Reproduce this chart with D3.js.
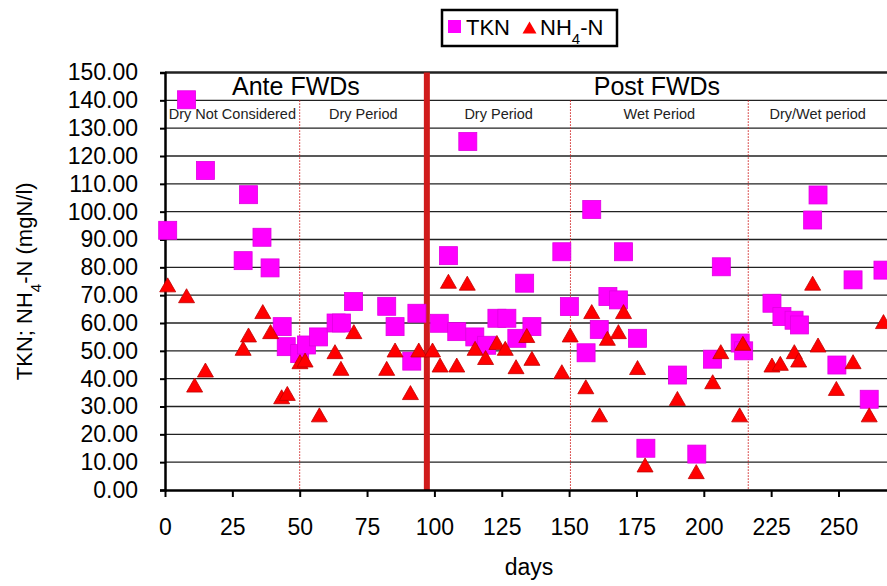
<!DOCTYPE html>
<html>
<head>
<meta charset="utf-8">
<script src="https://cdn.jsdelivr.net/npm/d3@7"></script>
<style>
  body { margin: 0; background: #fff; }
  text { font-family: "Liberation Sans", Arial, sans-serif; fill: #000; }
</style>
</head>
<body>
<div id="chart"></div>
<script>
// data
const tknDays = [1, 8, 15, 29, 31, 36, 39, 43.5, 45, 50, 52.5, 57, 63.5, 65.5, 70, 82.3, 85.4, 91.6, 93.5,
  101.8, 105.2, 108.3, 112.4, 115, 119.4, 123.2, 126.9, 130.6, 133.5, 136.2,
  147.3, 150.1, 156.3, 158.4, 161.2, 164.4, 168.3, 170.2, 175.4, 178.5,
  190.2, 197.4, 203.2, 206.5, 213.5, 214.8,
  225.3, 229, 233.5, 235.5, 240.4, 242.4, 249.4, 255.4, 261.4, 266.5];
const tknValues = [93.3, 140.2, 114.8, 82.4, 106.1, 90.8, 79.8, 58.7, 51.5, 49, 52.1, 55, 60, 60, 67.7, 66, 58.7, 46.3, 63.5,
  59.9, 84.2, 56.9, 125.2, 55, 52, 61.7, 61.7, 54.5, 74.3, 58.7,
  85.6, 65.9, 49.3, 100.8, 57.7, 69.5, 68.3, 85.6, 54.5, 15,
  41.3, 12.9, 47, 80.2, 52.8, 50,
  67.1, 62.3, 61, 59.3, 97, 106, 44.9, 75.5, 32.6, 79];

const nh4Days = [1, 8, 11, 15, 29, 31, 36.3, 39.2, 43.3, 45.4, 50.1, 52, 57.3, 63.1, 65.3, 70.1, 82.3, 85.4, 91.1, 94.2,
  99.3, 102.1, 105.2, 108.3, 112.2, 115.1, 119, 123.2, 126.3, 130.3, 134.3, 136.2,
  147.3, 150.4, 156.2, 158.4, 161.3, 164.2, 168.3, 170.2, 175.4, 178.2,
  190.2, 197.2, 203.3, 206.3, 213.3, 214.5,
  225.3, 228.4, 233.6, 235.2, 240.4, 242.4, 249.2, 255.4, 261.4, 266.7];
const nh4Values = [73.7, 69.8, 37.7, 43.1, 50.9, 55.7, 64.1, 56.9, 33.5, 34.7, 46.1, 46.7, 27, 49.7, 43.7, 56.9, 43.7, 50.3, 35, 50.3,
  50.3, 44.9, 75, 44.9, 74.3, 50.9, 47.6, 53, 50.9, 44.3, 55.5, 47.3,
  42.5, 55.7, 37.1, 64.1, 27, 54.5, 56.9, 64.1, 44, 9,
  32.9, 6.6, 38.9, 49.7, 27, 52.7,
  44.9, 45.5, 49.7, 46.7, 74.3, 52.1, 36.5, 46.1, 27, 60.5];

const xTicks = [0, 25, 50, 75, 100, 125, 150, 175, 200, 225, 250];
const yTicks = [0, 10, 20, 30, 40, 50, 60, 70, 80, 90, 100, 110, 120, 130, 140, 150];

const fwdDay = 97.2;                       // thick red line
const periodBounds = [50, 150.5, 216.5];  // dotted red lines
const phases = [{ label: "Ante FWDs", from: 0, to: fwdDay }, { label: "Post FWDs", from: fwdDay, to: 268 }];
const periods = [
  { label: "Dry Not Considered", from: 0, to: 50 },
  { label: "Dry Period", from: 50, to: fwdDay },
  { label: "Dry Period", from: fwdDay, to: 150.5 },
  { label: "Wet Period", from: 150.5, to: 216.5 },
  { label: "Dry/Wet period", from: 216.5, to: 268 }
];

// 1: SVG
const W = 887, H = 586;
const svg = d3.select("#chart").append("svg")
  .attr("width", W).attr("height", H);

const x = d3.scaleLinear().domain([0, 268]).range([165, 887]);
const y = d3.scaleLinear().domain([0, 150]).range([490, 72.5]);

// 2: GRID
svg.append("g")
  .selectAll("line")
  .data(yTicks.filter(d => d > 0))
  .enter().append("line")
  .attr("x1", x(0)).attr("x2", W)
  .attr("y1", d => y(d)).attr("y2", d => y(d))
  .attr("stroke", "#222")
  .attr("stroke-width", d => d === 150 ? 2.5 : 1.4);

// 3: PERIOD LINES
svg.append("g")
  .selectAll("line")
  .data(periodBounds)
  .enter().append("line")
  .attr("x1", d => x(d)).attr("x2", d => x(d))
  .attr("y1", y(140)).attr("y2", y(0))
  .attr("stroke", "#d02020")
  .attr("stroke-width", 1)
  .attr("stroke-dasharray", "1.5,1.5");

svg.append("line")
  .attr("x1", x(fwdDay)).attr("x2", x(fwdDay))
  .attr("y1", y(150)).attr("y2", y(0))
  .attr("stroke", "#d01c1c")
  .attr("stroke-width", 6);

// 4: HEADER TEXT
svg.append("g")
  .selectAll("text")
  .data(phases)
  .enter().append("text")
  .attr("x", d => (x(d.from) + x(d.to)) / 2)
  .attr("y", 95)
  .attr("text-anchor", "middle")
  .style("font-size", "25px")
  .text(d => d.label);

svg.append("g")
  .selectAll("text")
  .data(periods)
  .enter().append("text")
  .attr("x", d => (x(d.from) + x(d.to)) / 2)
  .attr("y", 119)
  .attr("text-anchor", "middle")
  .style("font-size", "14.5px")
  .style("fill", "#222")
  .text(d => d.label);

// 5: AXES
const yAxis = svg.append("g")
  .attr("transform", `translate(${x(0)},0)`)
  .call(d3.axisLeft(y).tickValues(yTicks).tickFormat(d3.format(".2f")).tickSize(5).tickPadding(22));
yAxis.select(".domain").attr("stroke", "#000").attr("stroke-width", 2.5);
yAxis.selectAll(".tick line").attr("stroke", "#000").attr("stroke-width", 2);
yAxis.selectAll(".tick text")
  .style("font-family", "'Liberation Sans', Arial, sans-serif")
  .style("font-size", "23px")
  .attr("fill", "#111");

const xAxis = svg.append("g")
  .attr("transform", `translate(0,${y(0)})`)
  .call(d3.axisBottom(x).tickValues(xTicks).tickFormat(d3.format("d")).tickSize(7).tickSizeOuter(0).tickPadding(22));
xAxis.select(".domain").attr("stroke", "#000").attr("stroke-width", 2.5);
xAxis.selectAll(".tick line").attr("stroke", "#000").attr("stroke-width", 2);
xAxis.selectAll(".tick text")
  .style("font-family", "'Liberation Sans', Arial, sans-serif")
  .style("font-size", "23px")
  .attr("fill", "#111");

// 6: MARKERS
const tri = (cx, cy, w, h) => `M${cx},${cy - h / 2}L${cx + w / 2},${cy + h / 2}L${cx - w / 2},${cy + h / 2}Z`;
const sq = 18;

svg.append("g")
  .selectAll("rect")
  .data(tknDays.map((d, i) => ({ day: d, v: tknValues[i] })))
  .enter().append("rect")
  .attr("x", d => x(d.day) - sq / 2)
  .attr("y", d => y(d.v) - sq / 2)
  .attr("width", sq).attr("height", sq)
  .attr("fill", "#ff00ff")
  .attr("stroke", "#e000e0")
  .attr("stroke-width", 0.8);

svg.append("g")
  .selectAll("path")
  .data(nh4Days.map((d, i) => ({ day: d, v: nh4Values[i] })))
  .enter().append("path")
  .attr("d", d => tri(x(d.day), y(d.v), 16, 14))
  .attr("fill", "#ff0000")
  .attr("stroke", "#c00000")
  .attr("stroke-width", 0.8);

// 7: LABELS
svg.append("text")
  .attr("x", 529)
  .attr("y", 575)
  .attr("text-anchor", "middle")
  .style("font-size", "23px")
  .text("days");

const yTitle = svg.append("text")
  .attr("transform", `translate(32,${(y(0) + y(150)) / 2}) rotate(-90)`)
  .attr("text-anchor", "middle")
  .style("font-size", "22px");
yTitle.append("tspan").text("TKN; NH");
yTitle.append("tspan").attr("baseline-shift", "sub").style("font-size", "15px").text("4");
yTitle.append("tspan").text("-N (mgN/l)");

// 8: LEGEND
const legend = svg.append("g");
legend.append("rect")
  .attr("x", 442).attr("y", 10)
  .attr("width", 175).attr("height", 36)
  .attr("fill", "#fff")
  .attr("stroke", "#000")
  .attr("stroke-width", 2.5);
legend.append("rect")
  .attr("x", 448).attr("y", 20)
  .attr("width", 13).attr("height", 13)
  .attr("fill", "#ff00ff");
legend.append("text")
  .attr("x", 466).attr("y", 35)
  .style("font-size", "22px")
  .text("TKN");
legend.append("path")
  .attr("d", tri(529.5, 27.5, 14, 12))
  .attr("fill", "#ff0000");
const lt = legend.append("text")
  .attr("x", 540).attr("y", 35)
  .style("font-size", "22px");
lt.append("tspan").text("NH");
lt.append("tspan").attr("baseline-shift", "sub").style("font-size", "15px").text("4");
lt.append("tspan").text("-N");
</script>
</body>
</html>
